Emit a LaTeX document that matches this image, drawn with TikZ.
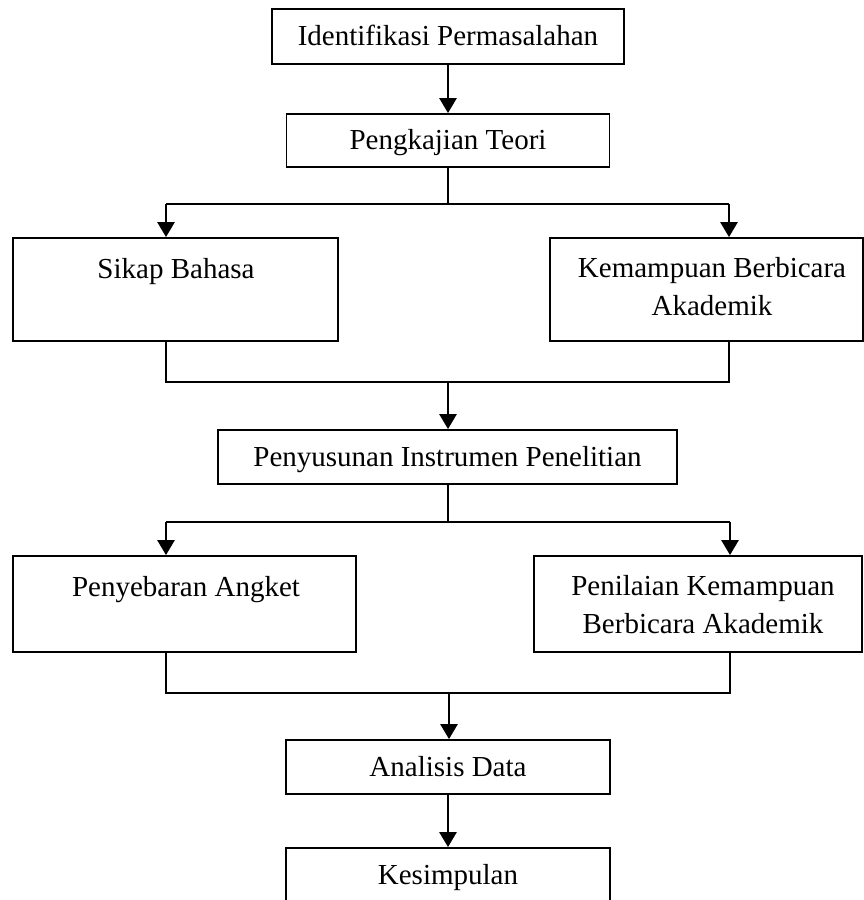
\documentclass[tikz,border=0pt]{standalone}
\usepackage{fontspec}
\setmainfont{Liberation Serif}
\usetikzlibrary{arrows.meta,calc}
\begin{document}
\begin{tikzpicture}[x=1pt,y=-1pt,
  box/.style={draw, line width=1.8pt, rectangle, inner sep=0pt,
    font=\fontsize{29}{38}\selectfont, text height=22pt, text depth=4pt},
  lbl/.style={font=\fontsize{29}{38}\selectfont, inner sep=0pt, align=center, anchor=base},
  conn/.style={line width=1.6pt},
  arr/.style={line width=2.6pt, -{Triangle[width=17pt,length=15pt]}},
]
\useasboundingbox (0,0) rectangle (864,900);
\fill[white] (0,0) rectangle (864,900);

% boxes
\node[box, minimum width=352pt, minimum height=55pt] (ident) at (448,36.5) {Identifikasi Permasalahan};
\node[box, minimum width=323pt, minimum height=53pt] (teori) at (448,140.5) {Pengkajian Teori};
\node[box, minimum width=325pt, minimum height=103pt] (sikap) at (175.5,289.5) {};
\node[lbl] (sikapt) at (176,278) {Sikap Bahasa};
\node[box, minimum width=313pt, minimum height=103pt] (kemam) at (706.5,289.5) {};
\node[lbl] (kemamt) at (712,315) {Kemampuan Berbicara\\Akademik};
\node[box, minimum width=459pt, minimum height=54pt] (susun) at (447.5,457) {Penyusunan Instrumen Penelitian};
\node[box, minimum width=343pt, minimum height=96pt] (sebar) at (184.5,604) {};
\node[lbl] (sebart) at (186,596) {Penyebaran Angket};
\node[box, minimum width=328pt, minimum height=96pt] (nilai) at (698,604) {};
\node[lbl] (nilait) at (703,633) {Penilaian Kemampuan\\Berbicara Akademik};
\node[box, minimum width=324pt, minimum height=54pt] (anal) at (448,767) {Analisis Data};
\node[box, minimum width=324pt, minimum height=54pt] (simp) at (448,875) {Kesimpulan};

% coordinates for splits and merges
\coordinate (s1) at (448,204);
\coordinate (s1l) at (166,204);
\coordinate (s1r) at (729,204);
\coordinate (m1) at (448,382);
\coordinate (m1l) at (166,382);
\coordinate (m1r) at (729,382);
\coordinate (s2) at (448,522);
\coordinate (s2l) at (166,522);
\coordinate (s2r) at (730,522);
\coordinate (m2) at (449,693);
\coordinate (m2l) at (166,693);
\coordinate (m2r) at (730,693);

% connectors
\draw[arr] (ident.south) -- (teori.north);
\draw[conn] (teori.south) -- (s1);
\draw[conn] (s1l) -- (s1r);
\draw[arr] (s1l) -- (s1l |- sikap.north);
\draw[arr] (s1r) -- (s1r |- kemam.north);
\draw[conn] (sikap.south -| m1l) -- (m1l) -- (m1r) -- (kemam.south -| m1r);
\draw[arr] (m1) -- (m1 |- susun.north);
\draw[conn] (susun.south -| s2) -- (s2);
\draw[conn] (s2l) -- (s2r);
\draw[arr] (s2l) -- (s2l |- sebar.north);
\draw[arr] (s2r) -- (s2r |- nilai.north);
\draw[conn] (sebar.south -| m2l) -- (m2l) -- (m2r) -- (nilai.south -| m2r);
\draw[arr] (m2) -- (m2 |- anal.north);
\draw[arr] (anal.south) -- (simp.north);
\end{tikzpicture}
\end{document}
